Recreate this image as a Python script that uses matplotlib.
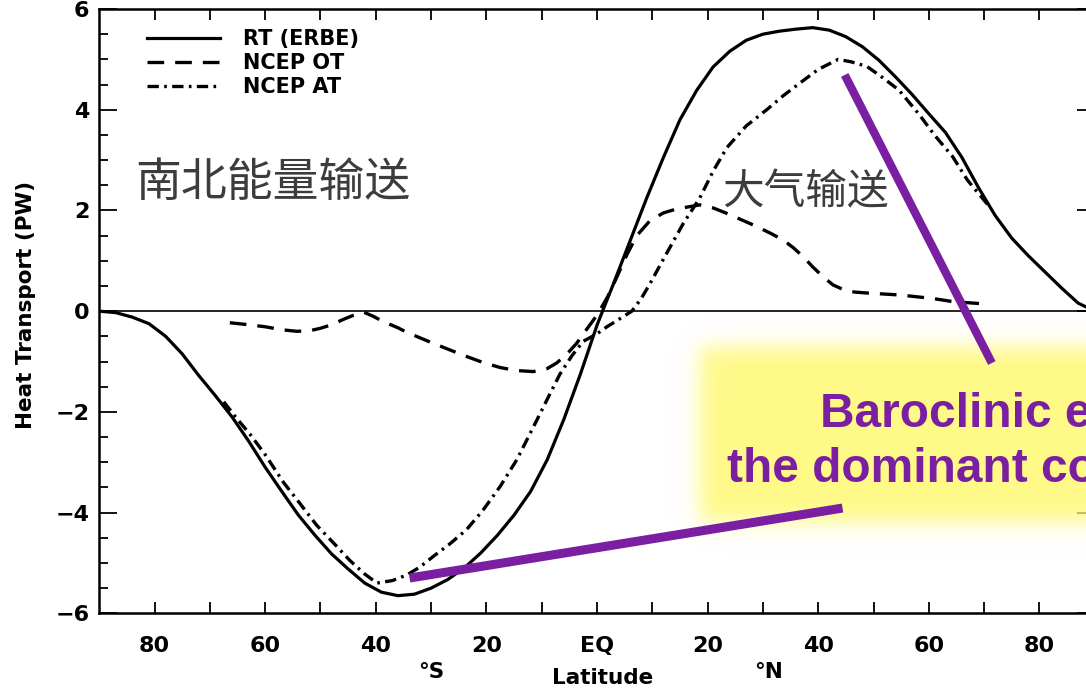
import numpy as np
import matplotlib
matplotlib.use("Agg")
import matplotlib.pyplot as plt
from matplotlib.lines import Line2D
from matplotlib.transforms import blended_transform_factory

# --- data (latitude in degrees, S negative; PW) ---
rt_lat = [-90, -87, -84, -81, -78, -75, -72, -69, -66, -63, -60, -57, -54, -51, -48,
          -45, -42, -39, -36, -33, -30, -27, -24, -21, -18, -15, -12, -9, -6, -3, 0,
          1, 3, 6, 9, 12, 15, 18, 21, 24, 27, 30, 33, 36, 39, 42, 45, 48, 51, 54, 57,
          60, 63, 66, 69, 72, 75, 78, 81, 84, 87, 90]
rt_val = [0, -0.03, -0.12, -0.25, -0.50, -0.85, -1.28, -1.68, -2.10, -2.58, -3.10,
          -3.58, -4.05, -4.45, -4.82, -5.12, -5.40, -5.58, -5.65, -5.62, -5.50, -5.33,
          -5.10, -4.80, -4.45, -4.05, -3.58, -2.95, -2.15, -1.25, -0.28, 0.0, 0.55,
          1.40, 2.25, 3.05, 3.80, 4.38, 4.85, 5.16, 5.38, 5.50, 5.56, 5.60, 5.63, 5.58,
          5.45, 5.25, 4.98, 4.65, 4.30, 3.92, 3.55, 3.05, 2.45, 1.90, 1.45, 1.10, 0.78,
          0.46, 0.16, 0]

ot_lat = [-66.4, -63, -60, -57, -54.3, -52, -50, -48, -46, -44, -42.2, -40.5, -38.6,
          -36, -34.4, -32, -29.6, -26.6, -23.6, -20.6, -17.5, -14.5, -11.5, -9, -7.3,
          -5.5, -3.7, -2, 0, 2, 3.6, 5.4, 7.2, 9.6, 12, 14.4, 18.6, 21, 23.5, 26, 28.9,
          31.5, 33.7, 35.5, 37.3, 39, 40.9, 42.7, 44.5, 46.5, 48.8, 54.9, 60.8, 64.3,
          70.5]
ot_val = [-0.23, -0.27, -0.31, -0.37, -0.40, -0.39, -0.34, -0.27, -0.17, -0.08, -0.02,
          -0.10, -0.21, -0.33, -0.42, -0.53, -0.64, -0.77, -0.90, -1.02, -1.12, -1.18,
          -1.20, -1.14, -1.03, -0.86, -0.64, -0.38, -0.08, 0.30, 0.68, 1.12, 1.50, 1.80,
          1.95, 2.03, 2.11, 2.05, 1.94, 1.82, 1.68, 1.54, 1.41, 1.26, 1.08, 0.88, 0.68,
          0.52, 0.43, 0.38, 0.36, 0.32, 0.25, 0.19, 0.14]

at_lat = [-67.5, -65, -62.7, -60, -56.7, -53.5, -50.7, -47.5, -44.7, -42, -39.8, -37,
          -34.4, -32, -29.6, -26.6, -23.6, -20.6, -17.5, -14.5, -11.5, -9, -6.7, -4.5,
          -2.5, 0, 1.8, 4, 6.3, 8, 9.6, 12.6, 15.6, 18.6, 21, 23.5, 27, 30.7, 33.7,
          36.7, 40, 43.6, 46, 48.8, 51.5, 54.6, 58.3, 61, 64.3, 67, 71]
at_val = [-1.80, -2.15, -2.45, -2.85, -3.40, -3.85, -4.25, -4.62, -4.95, -5.22, -5.40,
          -5.35, -5.24, -5.08, -4.87, -4.62, -4.34, -3.95, -3.48, -2.95, -2.30, -1.75,
          -1.25, -0.88, -0.60, -0.45, -0.31, -0.16, 0.0, 0.25, 0.55, 1.15, 1.74, 2.25,
          2.78, 3.25, 3.68, 4.00, 4.28, 4.53, 4.80, 5.00, 4.95, 4.86, 4.65, 4.39, 3.90,
          3.50, 3.07, 2.60, 2.07]

labels = ["RT (ERBE)", "NCEP OT", "NCEP AT"]
xtick_pos = [-80, -60, -40, -20, 0, 20, 40, 60, 80]
xtick_lab = ["80", "60", "40", "20", "EQ", "20", "40", "60", "80"]
ytick_pos = [-6, -4, -2, 0, 2, 4, 6]

# purple pointer lines (lat, PW)
ptr1_lat, ptr1_val = [44.8, 71.4], [4.69, -1.03]
ptr2_lat, ptr2_val = [-33.9, 44.4], [-5.30, -3.91]

W, H = 1086, 689
purple = "#7B1FA2"
grey = "#3c3c3c"
cjk = ["Noto Sans CJK SC", "DejaVu Sans"]

fig = plt.figure(figsize=(W / 100, H / 100), dpi=100)
ax = fig.add_axes([99.3 / W, 1 - 613.3 / H, (1094.7 - 99.3) / W, (613.3 - 9) / H])
ax.set_xlim(-90, 90)
ax.set_ylim(-6, 6)

ax.axhline(0, color="black", lw=1.2)
ax.plot(rt_lat, rt_val, color="black", lw=2.3, label=labels[0])
ax.plot(ot_lat, ot_val, color="black", lw=2.4, linestyle=(0, (5.0, 3.3)), label=labels[1])
ax.plot(at_lat, at_val, color="black", lw=2.4, linestyle=(0, (3.4, 1.6, 0.8, 1.6)),
        label=labels[2])

for s in ax.spines.values():
    s.set_linewidth(1.8)

ax.set_xticks(xtick_pos)
ax.set_xticklabels(xtick_lab, fontsize=16, fontweight="bold")
ax.set_xticks([-70, -50, -30, -10, 10, 30, 50, 70], minor=True)
ax.tick_params(axis="x", which="both", direction="in", length=7.7, width=1.3,
               top=True, pad=16)
ax.set_yticks(ytick_pos)
ax.set_yticklabels([f"{v}".replace("-", "\u2212") for v in ytick_pos],
                   fontsize=16, fontweight="bold")
ax.set_yticks(np.arange(-6, 6.01, 0.5), minor=True)
ax.tick_params(axis="y", which="major", direction="in", length=13, width=1.3,
               right=True, pad=7)
ax.tick_params(axis="y", which="minor", direction="in", length=6.5, width=1.3, right=True)

ax.set_ylabel("Heat Transport (PW)", fontsize=15.5, fontweight="bold")
ax.yaxis.set_label_coords(-0.064, 0.51)
ax.set_xlabel("Latitude", fontsize=15.5, fontweight="bold")
ax.xaxis.set_label_coords(0.506, -0.091)

bt = blended_transform_factory(ax.transData, ax.transAxes)
ax.text(-30, -0.097, "°S", transform=bt, ha="center", va="center",
        fontsize=15.5, fontweight="bold")
ax.text(31, -0.097, "°N", transform=bt, ha="center", va="center",
        fontsize=15.5, fontweight="bold")

ax.legend(loc="upper left", bbox_to_anchor=(0.048, 0.967), frameon=False,
          borderaxespad=0, borderpad=0, handlelength=3.5, handletextpad=1.1,
          labelspacing=0.2, prop={"size": 15, "weight": "bold"})

# soft yellow highlight box, laid over the axes
ov = fig.add_axes([0, 0, 1, 1], zorder=2)
ov.axis("off")
xs = np.arange(W) + 0.5
ys = np.arange(H) + 0.5


def soft(t, a, b, s):
    return 1 / (1 + np.exp(-(t - a) / s)) / (1 + np.exp((t - b) / s))


mask = 0.9 * np.outer(soft(ys, 347, 522, 6), soft(xs, 700, 1200, 6))
img = np.zeros((H, W, 4))
img[..., 0], img[..., 1], img[..., 2] = 1.0, 0.98, 0.48
img[..., 3] = mask
ov.imshow(img, extent=[0, W, H, 0], aspect="auto", interpolation="bilinear")
ov.set_xlim(0, W)
ov.set_ylim(H, 0)

# pointer lines
fig.add_artist(Line2D(ptr1_lat, ptr1_val, transform=ax.transData, color=purple,
                      lw=6, solid_capstyle="butt", zorder=4))
fig.add_artist(Line2D(ptr2_lat, ptr2_val, transform=ax.transData, color=purple,
                      lw=6.5, solid_capstyle="butt", zorder=4))

# texts
fig.text(135 / W, 1 - 183 / H, "南北能量输送", family=cjk, fontsize=33, color=grey,
         ha="left", va="center", zorder=5)
fig.text(722 / W, 1 - 193 / H, "大气输送", family=cjk, fontsize=30, color=grey,
         ha="left", va="center", zorder=5)
fig.text(820 / W, 1 - 426.7 / H, "Baroclinic eddies are", family="Liberation Sans",
         fontsize=34.5, fontweight="bold", color=purple, ha="left", va="baseline", zorder=5)
fig.text(727 / W, 1 - 481.7 / H, "the dominant contributor", family="Liberation Sans",
         fontsize=34.5, fontweight="bold", color=purple, ha="left", va="baseline", zorder=5)

fig.savefig("out.png", dpi=100)
